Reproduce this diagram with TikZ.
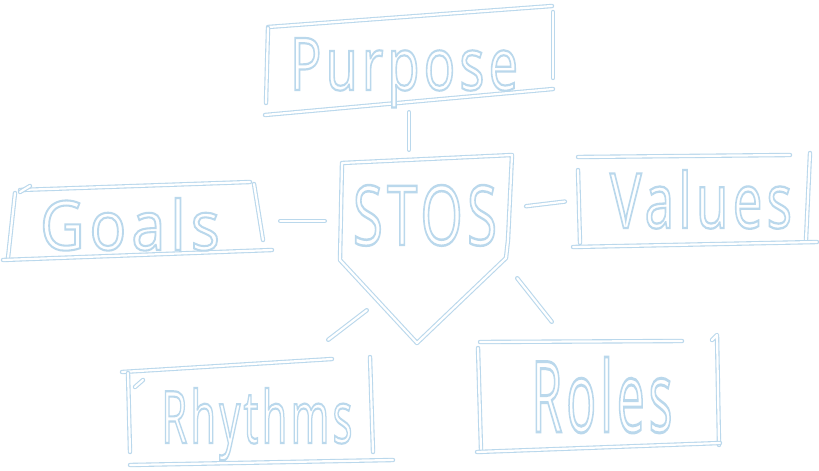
\documentclass[tikz,border=0pt]{standalone}
\usepackage{fontspec}
\usepackage{graphicx}
\usetikzlibrary{calc}
\newfontface\handfont[LetterSpace=8,FakeBold=3]{Open Sans}
\definecolor{skc}{RGB}{186,216,236}
\newcommand{\hw}[3]{\resizebox{#1pt}{#2pt}{\handfont\fontsize{60}{60}\selectfont\special{pdf:bcolor [1 1 1] [0.729 0.847 0.925]}#3\special{pdf:ecolor}}}
\tikzset{
  sk/.style={draw=skc, line width=1.1pt, double=white, double distance=2.2pt, line cap=round, line join=round},
  area/.style={draw=none, rectangle, inner sep=0pt},
  word/.style={anchor=base, inner sep=0pt}
}
\begin{document}
\begin{tikzpicture}[x=1pt,y=-1pt]
\fill[white] (0,0) rectangle (819,471);
\useasboundingbox (0,0) rectangle (819,471);

% invisible areas of the boxes
\node[area, minimum width=280pt, minimum height=82pt] (purpose) at (409,62) {};
\node[area, minimum width=250pt, minimum height=66pt] (goals) at (138,221) {};
\node[area, minimum width=170pt, minimum height=96pt] (stos) at (426,208) {};
\node[area, minimum width=234pt, minimum height=88pt] (values) at (695,200) {};
\node[area, minimum width=244pt, minimum height=92pt] (rhythms) at (250,412) {};
\node[area, minimum width=240pt, minimum height=106pt] (roles) at (598,395) {};

% Purpose box
\draw[sk] (268,27) -- (552,6);
\draw[sk] (268,28) -- (266,103);
\draw[sk] (553,12) -- (553,78);
\draw[sk] (265,115) -- (553,89);

% Goals box
\draw[sk] (20,190) -- (250,182);
\draw[sk] (30,186) -- (20,192);
\draw[sk] (15,193) -- (8,258);
\draw[sk] (254,184) -- (263,240);
\draw[sk] (3,260) -- (272,250);

% STOS shape
\draw[sk, fill=white] (342,163) -- (512,155) -- (508,240) -- (506,258) -- (417,343) -- (340,260) -- cycle;

% Values box
\draw[sk] (578,157) -- (790,155);
\draw[sk] (578,170) -- (580,243);
\draw[sk] (810,153) -- (806,240);
\draw[sk] (573,247) -- (817,242);

% Rhythms box
\draw[sk] (122,372) -- (332,359);
\draw[sk] (128,373) -- (130,452);
\draw[sk] (135,387) -- (143,380);
\draw[sk] (370,357) -- (373,452);
\draw[sk] (130,465) -- (393,460);

% Roles box
\draw[sk] (480,342) -- (682,341);
\draw[sk] (478,348) -- (481,450);
\draw[sk] (712,340) -- (717,335) -- (719,445);
\draw[sk] (477,452) -- (720,443);

% words
\node[word] (purposeT) at (404,90) {\hw{228}{52}{Purpose}};
\node[word] (goalsT) at (130,250) {\hw{180}{52}{Goals}};
\node[word] (stosT) at (425,245) {\hw{144}{60}{STOS}};
\node[word] (valuesT) at (701,228) {\hw{182}{58}{Values}};
\node[word] (rhythmsT) at (257,443) {\hw{191}{55}{Rhythms}};
\node[word] (rolesT) at (602,432) {\hw{141}{75}{Roles}};

% connectors
\draw[sk, shorten <=9pt, shorten >=10pt] (purpose.south) -- (purpose.south |- stos.north);
\draw[sk, shorten <=17pt, shorten >=16pt] (goals.east) -- (goals.east -| stos.west);
\draw[sk, shorten <=15pt, shorten >=13pt] (stos.east) -- (values.west);
\draw[sk] ([shift={(26,54)}]stos.south west) -- ([shift={(-44,-26)}]rhythms.north east);
\draw[sk] ([shift={(6,22)}]stos.south east) -- ([shift={(74,-20)}]roles.north west);
\end{tikzpicture}
\end{document}
